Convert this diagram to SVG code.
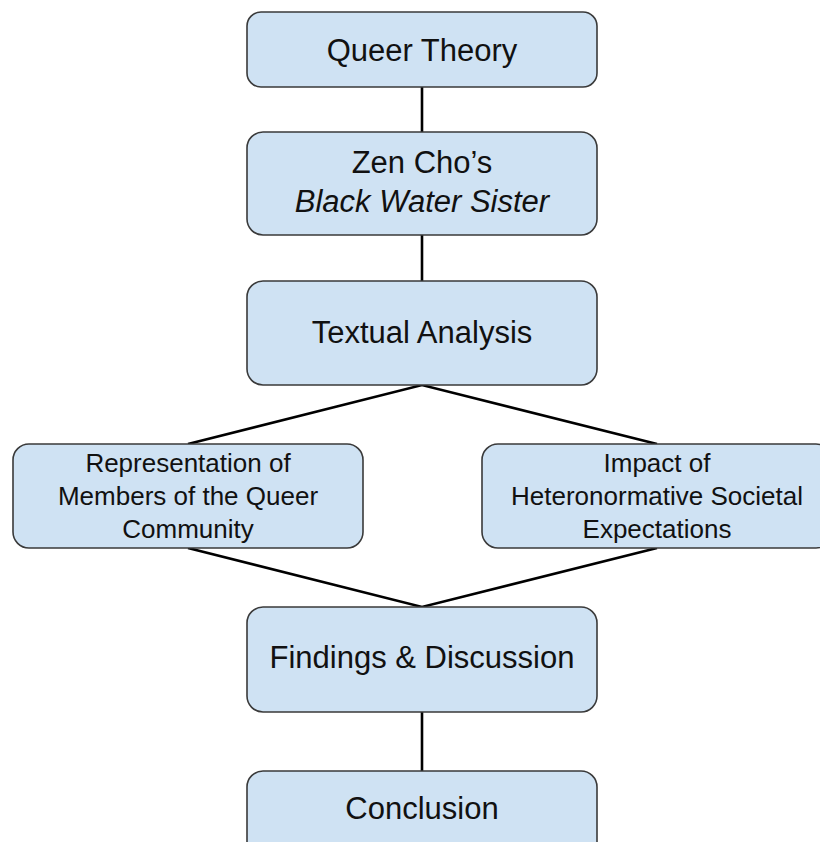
<svg xmlns="http://www.w3.org/2000/svg" width="820" height="842" viewBox="0 0 820 842">
<style>
.box{fill:#cfe2f3;stroke:#3a3a3a;stroke-width:1.6}
.big{font-family:"Liberation Sans",Arial,sans-serif;font-size:31px;fill:#111;text-anchor:middle}
.sm{font-family:"Liberation Sans",Arial,sans-serif;font-size:26px;fill:#111;text-anchor:middle}
.conn{stroke:#000;stroke-width:2.6;fill:none}
</style>
<rect width="820" height="842" fill="#fff"/>
<g id="connectors">
<line class="conn" x1="422" y1="87" x2="422" y2="132"/>
<line class="conn" x1="422" y1="235" x2="422" y2="281"/>
<polyline class="conn" points="188,444 422,385 657,444"/>
<polyline class="conn" points="188,548 422,607 657,548"/>
<line class="conn" x1="422" y1="712" x2="422" y2="771"/>
</g>
<g id="queer-theory">
<rect class="box" x="247" y="12" width="350" height="75" rx="14"/>
<text class="big" x="422" y="61">Queer Theory</text>
</g>
<g id="zen-cho">
<rect class="box" x="247" y="132" width="350" height="103" rx="16"/>
<text class="big" x="422" y="173">Zen Cho’s</text>
<text class="big" x="422" y="212" font-style="italic">Black Water Sister</text>
</g>
<g id="textual-analysis">
<rect class="box" x="247" y="281" width="350" height="104" rx="16"/>
<text class="big" x="422" y="343">Textual Analysis</text>
</g>
<g id="representation">
<rect class="box" x="13" y="444" width="350" height="104" rx="16"/>
<text class="sm" x="188" y="472">Representation of</text>
<text class="sm" x="188" y="505">Members of the Queer</text>
<text class="sm" x="188" y="538">Community</text>
</g>
<g id="impact">
<rect class="box" x="482" y="444" width="350" height="104" rx="16"/>
<text class="sm" x="657" y="472">Impact of</text>
<text class="sm" x="657" y="505">Heteronormative Societal</text>
<text class="sm" x="657" y="538">Expectations</text>
</g>
<g id="findings">
<rect class="box" x="247" y="607" width="350" height="105" rx="16"/>
<text class="big" x="422" y="668">Findings &amp; Discussion</text>
</g>
<g id="conclusion">
<rect class="box" x="247" y="771" width="350" height="104" rx="16"/>
<text class="big" x="422" y="819">Conclusion</text>
</g>
</svg>
